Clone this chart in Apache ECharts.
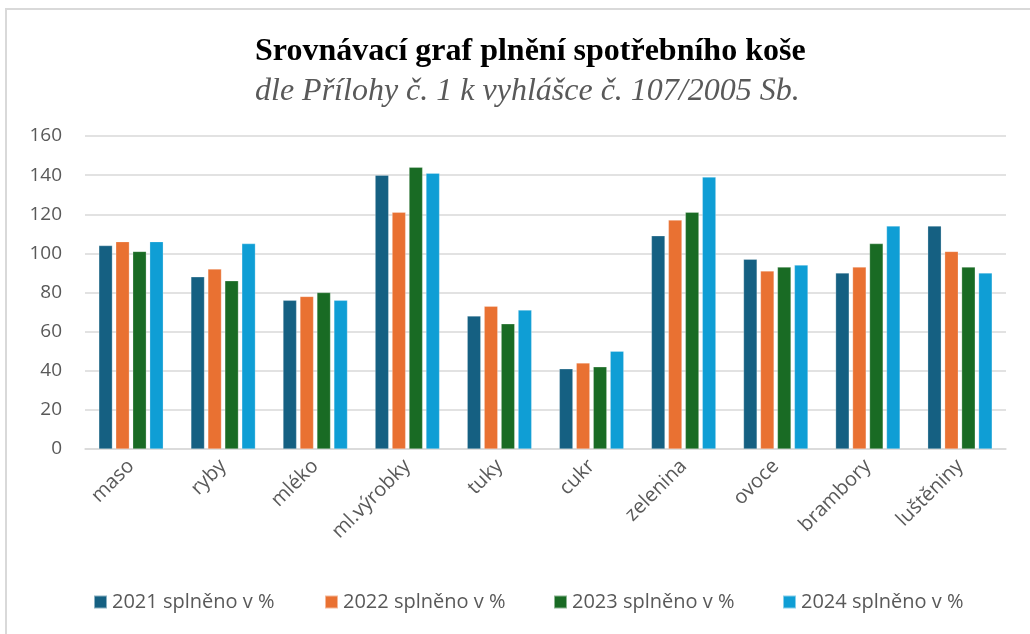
<!DOCTYPE html>
<html>
<head>
<meta charset="utf-8">
<script src="https://cdn.jsdelivr.net/npm/echarts@6/dist/echarts.min.js"></script>
<style>
  html, body { margin: 0; padding: 0; background: #fff; }
  #chart { width: 1030px; height: 634px; }
</style>
</head>
<body>
<div id="chart"></div>
<script>
var categories = ['maso', 'ryby', 'mléko', 'ml.výrobky', 'tuky', 'cukr', 'zelenina', 'ovoce', 'brambory', 'luštěniny'];
var seriesNames = ['2021 splněno v %', '2022 splněno v %', '2023 splněno v %', '2024 splněno v %'];
var y2021 = [104, 88, 76, 140, 68, 41, 109, 97, 90, 114];
var y2022 = [106, 92, 78, 121, 73, 44, 117, 91, 93, 101];
var y2023 = [101, 86, 80, 144, 64, 42, 121, 93, 105, 93];
var y2024 = [106, 105, 76, 141, 71, 50, 139, 94, 114, 90];
var colors = ['#156082', '#E97132', '#196B24', '#0F9ED5'];

var myChart = echarts.init(document.getElementById('chart'));
var values = [y2021, y2022, y2023, y2024];
var legendLeft = [88, 319, 548, 777];
var series = [];
var legends = [];
for (var i = 0; i < values.length; i++) {
    series.push({
        name: seriesNames[i],
        type: 'bar',
        data: values[i],
        barGap: '25%',
        barCategoryGap: '30%',
        itemStyle: { color: colors[i], borderColor: 'rgba(255,255,255,0.5)', borderWidth: 0.5 }
    });
    // one legend per item so the spacing matches
    legends.push({
        data: [seriesNames[i]],
        left: legendLeft[i],
        bottom: 17,
        itemWidth: 13,
        itemHeight: 13,
        itemGap: 5,
        icon: 'rect',
        textStyle: { fontFamily: 'Open Sans', fontSize: 20, color: '#595959' }
    });
}

option = {
    animation: false,
    backgroundColor: '#fff',
    graphic: [{
        type: 'rect',
        shape: { x: 6, y: 9, width: 1100, height: 700 },
        style: { fill: 'none', stroke: '#d9d9d9', lineWidth: 2 }
    }],
    title: {
        text: 'Srovnávací graf plnění spotřebního koše',
        subtext: 'dle Přílohy č. 1 k vyhlášce č. 107/2005 Sb.',
        left: 250,
        top: 31,
        itemGap: 8,
        textStyle: {
            fontFamily: 'Liberation Serif',
            fontWeight: 'bold',
            fontSize: 32,
            color: '#000'
        },
        subtextStyle: {
            fontFamily: 'Liberation Serif',
            fontStyle: 'italic',
            fontSize: 32,
            color: '#595959'
        }
    },
    legend: legends,
    grid: {
        left: 85,
        right: 24,
        top: 136,
        bottom: 185
    },
    xAxis: {
        type: 'category',
        data: categories,
        axisLine: { lineStyle: { color: '#d9d9d9', width: 1.5 } },
        axisTick: { show: false },
        axisLabel: {
            rotate: 45,
            interval: 0,
            margin: 14,
            fontFamily: 'Open Sans',
            fontSize: 20,
            color: '#595959'
        }
    },
    yAxis: {
        type: 'value',
        min: 0,
        max: 160,
        interval: 20,
        axisLine: { show: false },
        axisTick: { show: false },
        splitLine: { lineStyle: { color: '#d9d9d9', width: 1.5 } },
        axisLabel: {
            margin: 23,
            fontFamily: 'Open Sans',
            fontSize: 19,
            color: '#595959'
        }
    },
    series: series
};
myChart.setOption(option);
</script>
</body>
</html>
